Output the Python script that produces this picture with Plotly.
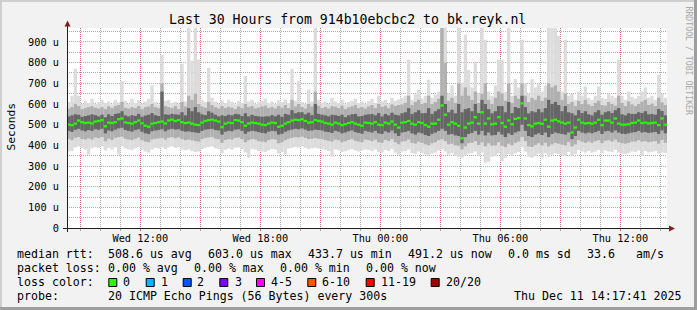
import plotly.graph_objects as go
import pandas as pd

# ---------------- data (values in microseconds) ----------------
first_step_center = "2025-12-10 08:25"
step = "10min"
x_start = "2025-12-10 08:20"
x_end = "2025-12-11 14:20"

med = [500, 498, 505, 520, 512, 508, 510, 506, 515, 518,
       522, 492, 510, 508, 512, 526, 530, 511, 508, 505,
       512, 520, 507, 495, 490, 505, 508, 512, 515, 506,
       520, 524, 518, 522, 512, 508, 510, 505, 500, 498,
       510, 518, 522, 524, 520, 515, 488, 505, 510, 508,
       522, 520, 512, 495, 506, 510, 508, 505, 500, 498,
       505, 510, 508, 490, 495, 505, 512, 520, 524, 522,
       526, 518, 510, 512, 522, 518, 515, 508, 505, 500,
       510, 505, 498, 502, 508, 512, 505, 500, 495, 510,
       508, 505, 512, 500, 498, 510, 505, 515, 500, 486,
       510, 512, 518, 505, 500, 512, 508, 498, 490, 505,
       505, 524, 593, 548, 500, 512, 505, 495, 434, 486,
       505, 510, 536, 505, 560, 505, 530, 502, 505, 536,
       508, 490, 520, 502, 528, 532, 603, 530, 498, 492,
       505, 508, 504, 524, 490, 520, 524, 516, 510, 505,
       510, 462, 486, 524, 510, 506, 508, 505, 510, 524,
       498, 520, 520, 510, 530, 505, 500, 500, 502, 508,
       510, 520, 508, 510, 506, 508, 510, 498, 530, 500]

mx = [610, 640, 770, 640, 600, 615, 605, 625, 600, 610,
      620, 605, 612, 598, 620, 608, 710, 615, 600, 625,
      605, 618, 600, 612, 625, 690, 610, 598, 838, 615,
      620, 605, 610, 600, 795, 612, 968, 810, 968, 815,
      620, 610, 775, 630, 612, 600, 618, 605, 620, 610,
      598, 615, 605, 735, 612, 620, 600, 608, 615, 625,
      605, 612, 600, 618, 610, 622, 605, 770, 615, 710,
      610, 600, 670, 612, 968, 620, 605, 612, 600, 630,
      612, 605, 620, 598, 610, 615, 625, 605, 612, 600,
      615, 625, 605, 640, 612, 620, 600, 630, 615, 622,
      628, 640, 815, 620, 650, 670, 625, 640, 718, 630,
      645, 660, 968, 968, 650, 690, 640, 968, 700, 935,
      765, 680, 805, 650, 968, 910, 660, 640, 690, 815,
      815, 660, 968, 640, 720, 680, 911, 700, 650, 720,
      680, 700, 660, 690, 968, 968, 968, 930, 660, 911,
      640, 650, 620, 660, 640, 685, 630, 620, 640, 685,
      630, 625, 650, 640, 630, 815, 640, 620, 660, 635,
      625, 640, 660, 680, 630, 640, 620, 740, 650, 630]

p90 = [578, 585, 600, 590, 575, 580, 585, 590, 582, 578,
       585, 575, 588, 580, 590, 595, 610, 582, 578, 585,
       580, 590, 575, 585, 588, 600, 585, 580, 700, 590,
       585, 580, 590, 575, 610, 588, 640, 620, 650, 600,
       588, 582, 610, 595, 585, 578, 590, 580, 586, 582,
       575, 588, 580, 600, 585, 590, 578, 582, 588, 592,
       580, 585, 578, 590, 582, 595, 580, 620, 588, 600,
       585, 578, 600, 588, 660, 592, 580, 585, 578, 590,
       586, 580, 592, 575, 584, 588, 595, 580, 585, 578,
       588, 595, 580, 600, 586, 592, 580, 598, 590, 595,
       598, 605, 640, 595, 610, 620, 600, 605, 640, 600,
       610, 625, 968, 800, 615, 630, 605, 700, 640, 680,
       640, 620, 660, 605, 650, 700, 620, 600, 630, 660,
       650, 615, 700, 605, 640, 625, 700, 640, 610, 630,
       620, 640, 615, 630, 700, 680, 690, 660, 620, 650,
       600, 610, 590, 615, 600, 620, 598, 590, 605, 615,
       595, 592, 610, 600, 592, 640, 605, 590, 612, 598,
       590, 600, 612, 620, 595, 602, 590, 630, 608, 595]

p75 = [540, 545, 550, 548, 538, 542, 545, 550, 546, 540,
       548, 536, 550, 542, 552, 555, 565, 545, 540, 546,
       542, 552, 538, 544, 548, 556, 546, 542, 660, 550,
       548, 552, 550, 548, 560, 545, 580, 565, 585, 560,
       550, 546, 565, 558, 548, 540, 545, 542, 548, 545,
       552, 550, 542, 555, 540, 548, 542, 540, 538, 540,
       540, 546, 540, 548, 538, 552, 548, 570, 555, 560,
       560, 550, 558, 546, 600, 552, 548, 545, 540, 548,
       546, 542, 548, 536, 545, 550, 552, 540, 542, 548,
       550, 552, 545, 556, 540, 552, 545, 558, 548, 545,
       555, 560, 580, 552, 560, 570, 555, 556, 580, 552,
       565, 575, 640, 600, 560, 572, 555, 600, 560, 575,
       580, 565, 600, 556, 620, 600, 575, 555, 565, 590,
       590, 560, 610, 556, 585, 580, 640, 585, 555, 565,
       560, 575, 560, 580, 620, 600, 610, 595, 565, 590,
       560, 555, 545, 570, 556, 565, 550, 545, 560, 570,
       548, 560, 565, 556, 570, 580, 550, 545, 555, 552,
       552, 560, 556, 565, 550, 552, 548, 575, 566, 545]

p25 = [470, 465, 475, 480, 472, 468, 474, 470, 478, 475,
       480, 458, 472, 468, 476, 482, 485, 474, 470, 466,
       474, 478, 466, 458, 455, 468, 472, 474, 478, 468,
       476, 480, 476, 478, 470, 466, 468, 464, 462, 460,
       470, 476, 478, 480, 474, 472, 452, 466, 470, 468,
       476, 478, 470, 456, 466, 470, 468, 464, 460, 458,
       466, 470, 468, 452, 456, 466, 472, 476, 480, 478,
       482, 476, 470, 472, 476, 474, 472, 466, 464, 460,
       470, 466, 458, 462, 468, 472, 464, 460, 456, 470,
       466, 462, 470, 458, 455, 468, 462, 472, 458, 445,
       462, 465, 470, 458, 452, 462, 458, 450, 445, 456,
       462, 470, 480, 470, 452, 455, 448, 445, 410, 440,
       455, 460, 470, 452, 470, 448, 462, 448, 450, 465,
       452, 440, 458, 450, 462, 468, 500, 470, 445, 440,
       452, 458, 450, 462, 440, 455, 462, 458, 455, 452,
       462, 430, 445, 470, 462, 458, 462, 458, 464, 470,
       455, 468, 470, 462, 472, 462, 456, 455, 458, 462,
       464, 470, 462, 464, 460, 462, 465, 455, 472, 458]

p10 = [432, 425, 436, 440, 430, 428, 434, 428, 438, 435,
       440, 420, 432, 426, 436, 440, 442, 432, 428, 425,
       432, 438, 425, 418, 415, 428, 432, 434, 436, 428,
       436, 440, 434, 438, 430, 425, 428, 424, 420, 418,
       430, 436, 438, 440, 432, 430, 412, 426, 430, 428,
       436, 438, 430, 415, 425, 430, 428, 420, 418, 415,
       425, 430, 428, 410, 415, 425, 432, 436, 440, 438,
       442, 436, 430, 432, 435, 432, 430, 425, 422, 418,
       428, 425, 415, 420, 426, 430, 422, 418, 415, 428,
       425, 420, 428, 415, 412, 426, 420, 430, 415, 405,
       418, 420, 428, 412, 408, 418, 412, 405, 400, 410,
       415, 425, 430, 420, 405, 408, 400, 398, 380, 395,
       410, 412, 420, 402, 415, 395, 410, 398, 400, 415,
       398, 392, 408, 400, 412, 418, 440, 420, 395, 392,
       402, 410, 400, 412, 395, 405, 412, 408, 404, 400,
       415, 395, 405, 425, 418, 412, 418, 412, 420, 425,
       410, 422, 425, 418, 428, 415, 410, 408, 412, 418,
       418, 425, 418, 420, 415, 418, 420, 408, 426, 412]

mn = [370, 372, 390, 395, 385, 380, 355, 385, 392, 388,
      395, 375, 388, 380, 390, 355, 395, 385, 380, 378,
      385, 392, 378, 370, 365, 380, 388, 385, 390, 382,
      390, 395, 388, 390, 380, 376, 380, 372, 368, 370,
      382, 388, 392, 395, 385, 382, 360, 378, 385, 380,
      388, 390, 382, 365, 340, 382, 380, 372, 370, 368,
      375, 382, 380, 360, 368, 355, 385, 388, 392, 390,
      395, 388, 382, 385, 388, 385, 382, 378, 372, 345,
      380, 376, 368, 372, 378, 382, 375, 370, 375, 380,
      378, 372, 380, 368, 365, 378, 372, 382, 365, 355,
      370, 372, 380, 362, 358, 370, 362, 355, 350, 360,
      365, 375, 380, 370, 355, 363, 350, 345, 340, 350,
      360, 362, 370, 350, 365, 316, 320, 345, 350, 362,
      322, 340, 358, 350, 362, 368, 390, 370, 345, 340,
      350, 360, 340, 362, 345, 355, 362, 358, 352, 348,
      368, 350, 358, 378, 370, 365, 372, 365, 370, 378,
      362, 375, 370, 368, 378, 365, 360, 358, 362, 370,
      368, 375, 350, 372, 365, 368, 372, 360, 365, 362]

y_tick_vals = [0, 100, 200, 300, 400, 500, 600, 700, 800, 900]
y_tick_text = ["0", "100 u", "200 u", "300 u", "400 u", "500 u",
               "600 u", "700 u", "800 u", "900 u"]
y_minor_vals = [50, 150, 250, 350, 450, 550, 650, 750, 850, 950]
y_top = 967.7

x_major = pd.date_range("2025-12-10 09:00", "2025-12-11 12:00", freq="3h")
x_major_text = ["", "Wed 12:00", "", "Wed 18:00", "", "Thu 00:00",
                "", "Thu 06:00", "", "Thu 12:00"]
x_minor = pd.date_range("2025-12-10 09:00", "2025-12-11 14:00", freq="1h")

title = "Last 30 Hours from 914b10ebcbc2 to bk.reyk.nl"
legend_rows = [
    [("median rtt:", 16), ("508.6 us avg", 107.3), ("603.0 us max", 207.3),
     ("433.7 us min", 307.0), ("491.2 us now", 407.3), ("0.0 ms sd", 507.3),
     ("33.6", 586.0), ("am/s", 635.0)],
    [("packet loss:", 16), ("0.00 % avg", 107.3), ("0.00 % max", 193.3),
     ("0.00 % min", 279.0), ("0.00 % now", 365.0)],
    [("loss color:", 16)],
    [("probe:", 16), ("20 ICMP Echo Pings (56 Bytes) every 300s", 107.3),
     ("Thu Dec 11 14:17:41 2025", 513.3)],
]
loss_labels = ["0", "1", "2", "3", "4-5", "6-10", "11-19", "20/20"]
loss_colors = ["#26ff00", "#00b8ff", "#0059ff", "#7e00ff", "#ff00ff",
               "#ff5500", "#ff0000", "#a10000"]
loss_box_x = [108.3, 145.7, 182.7, 219.3, 256.0, 307.3, 365.7, 430.7]
loss_text_x = [122.7, 160.0, 196.7, 234.0, 270.7, 321.7, 380.0, 445.3]

# ---------------- figure ----------------
W, H = 697, 310
L, R, T, B = 67, 667, 28, 228
MONO = "DejaVu Sans Mono"


def fx(px):
    return (px - L) / (R - L)


def fy(py):
    return (B - py) / (B - T)


t = pd.date_range(first_step_center, periods=len(med), freq=step)
step_ms = 600000

fig = go.Figure()
layers = [(mn, mx, "#DCDCDC"), (p10, p90, "#B0B0B0"), (p25, p75, "#666666")]
for lo, hi, col in layers:
    fig.add_trace(go.Bar(
        x=t, base=lo, y=[h - l for l, h in zip(lo, hi)], width=step_ms,
        marker=dict(color=col, line=dict(width=0)), hoverinfo="skip"))
fig.add_trace(go.Bar(
    x=t, base=[m - 5.5 for m in med], y=[11] * len(med), width=step_ms,
    marker=dict(color=loss_colors[0], line=dict(width=0)), hoverinfo="skip"))

MAJ = "rgba(222,79,79,0.6)"
MIN = "rgba(143,143,143,0.75)"
DASH = "1px,1px"

fig.update_layout(
    width=W, height=H, autosize=False,
    margin=dict(l=L, r=W - R, t=T, b=H - B, pad=0),
    paper_bgcolor="#F2F2F2", plot_bgcolor="#FFFFFF",
    barmode="overlay", showlegend=False,
    font=dict(family=MONO, color="#000000"),
    xaxis=dict(
        type="date", range=[x_start, x_end], fixedrange=True,
        tickmode="array",
        tickvals=[d.strftime("%Y-%m-%d %H:%M") for d in x_major],
        ticktext=x_major_text,
        showgrid=True, gridcolor=MAJ, griddash=DASH, gridwidth=1,
        ticks="outside", ticklen=2, tickcolor=MAJ,
        minor=dict(tickmode="array",
                   tickvals=[d.strftime("%Y-%m-%d %H:%M") for d in x_minor],
                   showgrid=True, gridcolor=MIN, griddash=DASH, gridwidth=1,
                   ticks="outside", ticklen=2, tickcolor=MIN),
        tickfont=dict(family=MONO, size=10.3, color="#000"),
        showline=False, zeroline=False, ticklabelstandoff=-1,
    ),
    yaxis=dict(
        range=[0, y_top], fixedrange=True,
        tickmode="array", tickvals=y_tick_vals, ticktext=y_tick_text,
        showgrid=True, gridcolor=MAJ, griddash=DASH, gridwidth=1,
        minor=dict(tickmode="array", tickvals=y_minor_vals,
                   showgrid=True, gridcolor=MIN, griddash=DASH, gridwidth=1),
        ticks="", tickfont=dict(family=MONO, size=10.3, color="#000"),
        showline=False, zeroline=False, ticklabelstandoff=7,
    ),
)

shapes = []
# 3D frame
shapes.append(dict(type="rect", xref="paper", yref="paper", x0=fx(0), x1=fx(W),
                   y0=fy(0), y1=fy(2), line=dict(width=0), fillcolor="#CFCFCF", layer="above"))
shapes.append(dict(type="rect", xref="paper", yref="paper", x0=fx(0), x1=fx(2),
                   y0=fy(0), y1=fy(H), line=dict(width=0), fillcolor="#CFCFCF", layer="above"))
shapes.append(dict(type="rect", xref="paper", yref="paper", x0=fx(0), x1=fx(W),
                   y0=fy(H - 3), y1=fy(H), line=dict(width=0), fillcolor="#9E9E9E", layer="above"))
shapes.append(dict(type="rect", xref="paper", yref="paper", x0=fx(W - 3), x1=fx(W),
                   y0=fy(0), y1=fy(H), line=dict(width=0), fillcolor="#9E9E9E", layer="above"))
# axes lines + arrows
AX = "#1F1F1F"
ARROW = "#801F1F"
shapes.append(dict(type="line", xref="paper", yref="paper", x0=fx(63), x1=fx(671),
                   y0=fy(228.5), y1=fy(228.5), line=dict(color=AX, width=1), layer="above"))
shapes.append(dict(type="line", xref="paper", yref="paper", x0=fx(67.5), x1=fx(67.5),
                   y0=fy(232), y1=fy(24), line=dict(color=AX, width=1), layer="above"))
shapes.append(dict(type="path", xref="paper", yref="paper",
                   path=f"M {fx(64.5)} {fy(26.5)} L {fx(70.5)} {fy(26.5)} L {fx(67.5)} {fy(20.5)} Z",
                   fillcolor=ARROW, line=dict(width=0), layer="above"))
shapes.append(dict(type="path", xref="paper", yref="paper",
                   path=f"M {fx(669)} {fy(225.5)} L {fx(669)} {fy(231.5)} L {fx(675)} {fy(228.5)} Z",
                   fillcolor=ARROW, line=dict(width=0), layer="above"))
# loss colour boxes
for bx, col in zip(loss_box_x, loss_colors):
    shapes.append(dict(type="rect", xref="paper", yref="paper",
                       x0=fx(bx + 0.5), x1=fx(bx + 8.5), y0=fy(278.5), y1=fy(286.5),
                       fillcolor=col, line=dict(color="#000000", width=1), layer="above"))

annotations = []
annotations.append(dict(text=title, x=fx(347), y=fy(19), xref="paper", yref="paper",
                        xanchor="center", yanchor="middle", showarrow=False,
                        font=dict(family=MONO, size=13.2, color="#000")))
annotations.append(dict(text="Seconds", x=fx(10.5), y=fy(127), xref="paper", yref="paper",
                        xanchor="center", yanchor="middle", showarrow=False, textangle=-90,
                        font=dict(family=MONO, size=11.3, color="#000")))
annotations.append(dict(text="RRDTOOL / TOBI OETIKER", x=fx(688), y=fy(4), xref="paper",
                        yref="paper", xanchor="center", yanchor="top", showarrow=False,
                        textangle=90, font=dict(family=MONO, size=8.2, color="#A8A8A8")))
row_y = [254.3, 268.3, 282.3, 295.7]
for ry, row in zip(row_y, legend_rows):
    for txt, px in row:
        annotations.append(dict(text=txt, x=fx(px - 1.5), y=fy(ry), xref="paper", yref="paper",
                                xanchor="left", yanchor="middle", showarrow=False,
                                font=dict(family=MONO, size=11.6, color="#000")))
for lab, px in zip(loss_labels, loss_text_x):
    annotations.append(dict(text=lab, x=fx(px - 1.5), y=fy(row_y[2]), xref="paper", yref="paper",
                            xanchor="left", yanchor="middle", showarrow=False,
                            font=dict(family=MONO, size=11.6, color="#000")))

fig.update_layout(shapes=shapes, annotations=annotations)
fig.write_html("out.html", config={"displayModeBar": False})
